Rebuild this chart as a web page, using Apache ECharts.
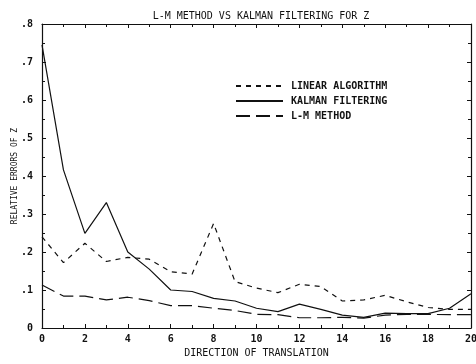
<!DOCTYPE html>
<html lang="en">

<head>
  <meta charset="UTF-8">
  <title>L-M method vs Kalman filtering for Z</title>
  <script src="https://cdn.jsdelivr.net/npm/echarts@6/dist/echarts.min.js"></script>
  <style>
    html, body { margin: 0; padding: 0; background: #fff; }
    #main { width: 476px; height: 364px; }
  </style>
</head>

<body>
  <div id="main"></div>
  <script>
    // 数据
    const directions = [0, 1, 2, 3, 4, 5, 6, 7, 8, 9, 10, 11, 12, 13, 14, 15, 16, 17, 18, 19, 20]
    const linearAlgorithm = [0.24, 0.172, 0.223, 0.175, 0.186, 0.181, 0.148, 0.142, 0.275, 0.122, 0.105,
      0.093, 0.115, 0.109, 0.071, 0.074, 0.086, 0.069, 0.054, 0.049, 0.049]
    const kalmanFiltering = [0.745, 0.416, 0.249, 0.33, 0.2, 0.155, 0.1, 0.096, 0.078, 0.071, 0.052,
      0.043, 0.063, 0.049, 0.034, 0.028, 0.039, 0.038, 0.038, 0.052, 0.09]
    const lmMethod = [0.113, 0.084, 0.084, 0.074, 0.081, 0.072, 0.059, 0.059, 0.052, 0.046, 0.036,
      0.035, 0.027, 0.027, 0.028, 0.026, 0.034, 0.036, 0.036, 0.035, 0.035]

    const font = 'DejaVu Sans Mono'
    const ink = '#111'

    const pairs = arr => arr.map((v, i) => [directions[i], v])

    let myChart = echarts.init(document.querySelector('#main'), null, { renderer: 'canvas' })

    const tickCommon = {
      axisLine: { show: true, onZero: false, lineStyle: { color: ink, width: 1.2 } },
      axisTick: { show: true, inside: true, length: 4, lineStyle: { color: ink, width: 1 } },
      minorTick: { show: true, splitNumber: 2, length: 3, lineStyle: { color: ink, width: 1 } },
      splitLine: { show: false }
    }

    let option = {
      backgroundColor: '#fff',
      animation: false,
      title: {
        text: 'L-M METHOD VS KALMAN FILTERING FOR Z',
        left: 256,
        textAlign: 'center',
        top: 6,
        textStyle: { fontFamily: font, fontSize: 10, fontWeight: 'normal', color: ink }
      },
      legend: {
        orient: 'vertical',
        left: 230,
        top: 76,
        itemWidth: 47,
        itemHeight: 10,
        itemGap: 5,
        itemStyle: { opacity: 0, borderWidth: 0 },
        textStyle: { fontFamily: font, fontSize: 10, fontWeight: 'bold', color: ink, padding: [0, 0, 0, 3] },
        data: ['LINEAR ALGORITHM', 'KALMAN FILTERING', 'L-M METHOD']
      },
      grid: { left: 42, right: 5, top: 24, bottom: 36, outerBoundsMode: 'none' },
      xAxis: [
        Object.assign({
          type: 'value',
          min: 0,
          max: 20,
          interval: 2,
          name: 'DIRECTION OF TRANSLATION',
          nameLocation: 'middle',
          nameGap: 20,
          nameMoveOverlap: false,
          nameTextStyle: { fontFamily: font, fontSize: 10, color: ink },
          axisLabel: { fontFamily: font, fontSize: 10, fontWeight: 'bold', color: ink, margin: 6 }
        }, tickCommon),
        Object.assign({
          type: 'value', position: 'top', min: 0, max: 20, interval: 2,
          axisLabel: { show: false }
        }, tickCommon)
      ],
      yAxis: [
        Object.assign({
          type: 'value',
          min: 0,
          max: 0.8,
          interval: 0.1,
          name: 'RELATIVE ERRORS OF Z',
          nameLocation: 'middle',
          nameGap: 23,
          nameMoveOverlap: false,
          nameTextStyle: { fontFamily: font, fontSize: 8, color: ink },
          axisLabel: {
            fontFamily: font, fontSize: 10, fontWeight: 'bold', color: ink, margin: 9,
            formatter: v => v === 0 ? '0' : v.toFixed(1).replace('0.', '.')
          }
        }, tickCommon),
        Object.assign({
          type: 'value', position: 'right', min: 0, max: 0.8, interval: 0.1,
          axisLabel: { show: false }
        }, tickCommon)
      ],
      series: [
        {
          name: 'LINEAR ALGORITHM',
          type: 'line',
          symbol: 'none',
          data: pairs(linearAlgorithm),
          lineStyle: { color: ink, width: 1.2, type: [5, 5] },
          itemStyle: { color: ink }
        },
        {
          name: 'KALMAN FILTERING',
          type: 'line',
          symbol: 'none',
          data: pairs(kalmanFiltering),
          lineStyle: { color: ink, width: 1.2, type: 'solid' },
          itemStyle: { color: ink }
        },
        {
          name: 'L-M METHOD',
          type: 'line',
          symbol: 'none',
          data: pairs(lmMethod),
          lineStyle: { color: ink, width: 1.2, type: [14, 6] },
          itemStyle: { color: ink }
        }
      ]
    }

    myChart.setOption(option)
  </script>
</body>

</html>
